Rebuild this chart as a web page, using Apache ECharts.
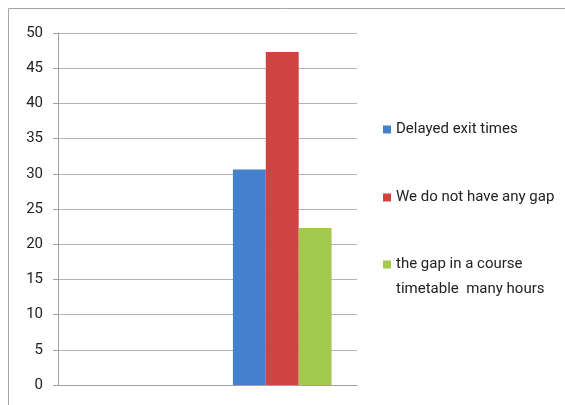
<!DOCTYPE html>
<html><head><meta charset="utf-8">
<script src="https://cdn.jsdelivr.net/npm/echarts@6/dist/echarts.min.js"></script>
<style>html,body{margin:0;padding:0;background:#fff}#c{width:565px;height:405px}</style>
</head><body><div id="c"></div>
<script>
var categories = ['', 'Reasons'];
var seriesNames = ['Delayed exit times', 'We do not have any gap', 'the gap in a course\ntimetable  many hours'];
var delayedExit = [null, 30.6];
var noGap = [null, 47.3];
var gapMany = [null, 22.3];
var yTicks = {min: 0, max: 50, interval: 5};
var colors = ['#4480CC', '#CF4340', '#A3C94E'];
var font = 'Roboto, "Liberation Sans", sans-serif';

var chart = echarts.init(document.getElementById('c'), null, {renderer: 'canvas'});
function lg(i, top, fmt) {
  var o = {
    left: 383, top: top, padding: 0, orient: 'vertical', selectedMode: false,
    itemWidth: 8, itemHeight: 8, itemGap: 0, icon: 'rect',
    data: [seriesNames[i]],
    textStyle: {fontFamily: font, fontSize: 15, color: '#222', lineHeight: 25,
      rich: {h: {color: 'rgba(0,0,0,0)', fontFamily: font, fontSize: 15, lineHeight: 25}, t: {fontFamily: font, fontSize: 15, color: '#222', lineHeight: 25}}}
  };
  if (fmt) o.formatter = fmt;
  return o;
}
chart.setOption({
  animation: false,
  backgroundColor: '#fff',
  graphic: [{type: 'rect', shape: {x: 8.5, y: 8.5, width: 600, height: 450}, style: {fill: 'none', stroke: '#a6a6a6', lineWidth: 1}, silent: true}],
  grid: {left: 58, right: 208, top: 33, bottom: 20},
  legend: [
    lg(0, 117),
    lg(1, 185),
    lg(2, 227, function (name) {
      var parts = name.split('\n');
      return '{h|x}\n{t|' + parts[0] + '}\n{t|' + parts[1] + '}';
    })
  ],
  xAxis: {
    type: 'category', data: categories,
    axisLine: {lineStyle: {color: '#a0a0a0'}}, axisTick: {show: false}, axisLabel: {show: false}
  },
  yAxis: {
    type: 'value', min: yTicks.min, max: yTicks.max, interval: yTicks.interval,
    axisLine: {show: true, lineStyle: {color: '#a0a0a0'}},
    axisTick: {show: true, length: 5, lineStyle: {color: '#a0a0a0'}},
    axisLabel: {fontFamily: font, fontSize: 15, color: '#222', margin: 15},
    splitLine: {lineStyle: {color: '#b4b4b4'}}
  },
  series: [
    {name: seriesNames[0], type: 'bar', data: delayedExit, itemStyle: {color: colors[0]}, barGap: '0%', barCategoryGap: '34%'},
    {name: seriesNames[1], type: 'bar', data: noGap, itemStyle: {color: colors[1]}, barGap: '0%', barCategoryGap: '34%'},
    {name: seriesNames[2], type: 'bar', data: gapMany, itemStyle: {color: colors[2]}, barGap: '0%', barCategoryGap: '34%'}
  ]
});
</script></body></html>
